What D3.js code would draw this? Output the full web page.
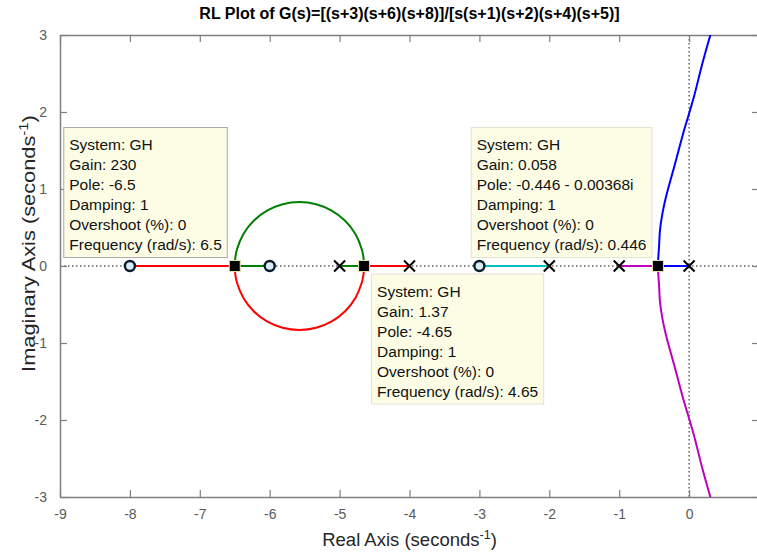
<!DOCTYPE html>
<html>
<head>
<meta charset="utf-8">
<script src="https://cdn.jsdelivr.net/npm/d3@7"></script>
<style>
  body { margin: 0; background: #fff; }
  svg { display: block; font-family: "Liberation Sans", Arial, Helvetica, sans-serif; }
</style>
</head>
<body>
<svg id="chart" width="757" height="553"></svg>
<script>
// open-loop poles and zeros
const poles = [0, -1, -2, -4, -5];
const zerosRL = [-3, -6, -8];

// real-axis pieces of the locus [from, to]
const blueAxis = [[0, 0], [-0.446, 0]];
const magentaAxis = [[-1, 0], [-0.446, 0]];
const cyanAxis = [[-2, 0], [-3, 0]];
const redAxisA = [[-4, 0], [-4.65, 0]];
const redAxisB = [[-6.5, 0], [-8, 0]];
const greenAxisA = [[-5, 0], [-4.65, 0]];
const greenAxisB = [[-6.5, 0], [-6, 0]];

// complex branches
const blueCurve = [[-0.446, 0], [-0.44, 0.12], [-0.43, 0.25], [-0.416, 0.47], [-0.38, 0.69],
  [-0.33, 0.9], [-0.2, 1.33], [-0.07, 1.77], [0.0, 1.98], [0.07, 2.2], [0.19, 2.63], [0.31, 3.02], [0.37, 3.22]];
const magentaCurve = [[-0.446, 0], [-0.44, -0.12], [-0.43, -0.25], [-0.416, -0.47], [-0.38, -0.69],
  [-0.33, -0.9], [-0.2, -1.33], [-0.07, -1.77], [0.0, -1.98], [0.07, -2.2], [0.19, -2.63], [0.31, -3.02], [0.37, -3.22]];
const greenArc = [[-4.65, 0], [-4.658, 0.108], [-4.682, 0.215], [-4.774, 0.415], [-4.921, 0.587], [-5.113, 0.719],
  [-5.335, 0.802], [-5.575, 0.83], [-5.815, 0.802], [-6.038, 0.719], [-6.229, 0.587], [-6.376, 0.415],
  [-6.469, 0.215], [-6.492, 0.108], [-6.5, 0]];
const redArc = [[-4.65, 0], [-4.658, -0.108], [-4.682, -0.215], [-4.774, -0.415], [-4.921, -0.587], [-5.113, -0.719],
  [-5.335, -0.802], [-5.575, -0.83], [-5.815, -0.802], [-6.038, -0.719], [-6.229, -0.587], [-6.376, -0.415],
  [-6.469, -0.215], [-6.492, -0.108], [-6.5, 0]];

// data tips
const tipPoints = [-6.5, -4.65, -0.446];
const tip1 = ["System: GH", "Gain: 230", "Pole: -6.5", "Damping: 1", "Overshoot (%): 0", "Frequency (rad/s): 6.5"];
const tip2 = ["System: GH", "Gain: 1.37", "Pole: -4.65", "Damping: 1", "Overshoot (%): 0", "Frequency (rad/s): 4.65"];
const tip3 = ["System: GH", "Gain: 0.058", "Pole: -0.446 - 0.00368i", "Damping: 1", "Overshoot (%): 0", "Frequency (rad/s): 0.446"];

const xTicks = [-9, -8, -7, -6, -5, -4, -3, -2, -1, 0, 1];
const yTicks = [-3, -2, -1, 0, 1, 2, 3];

const svg = d3.select("#chart");
const mLeft = 60, mRight = 759, mTop = 35, mBottom = 497;

const x = d3.scaleLinear().domain([-9, 1]).range([mLeft, mRight]);
const y = d3.scaleLinear().domain([-3, 3]).range([mBottom, mTop]);

svg.append("defs").append("clipPath").attr("id", "plotclip")
  .append("rect").attr("x", mLeft).attr("y", mTop).attr("width", mRight - mLeft).attr("height", mBottom - mTop);

// dotted zero lines
svg.append("line").attr("x1", mLeft).attr("x2", mRight).attr("y1", y(0)).attr("y2", y(0))
  .attr("stroke", "#666").attr("stroke-width", 1.5).attr("stroke-dasharray", "1.5,2.5");
svg.append("line").attr("x1", x(0)).attr("x2", x(0)).attr("y1", mTop).attr("y2", mBottom)
  .attr("stroke", "#666").attr("stroke-width", 1.5).attr("stroke-dasharray", "1.5,2.5");

// axes
const axisColor = "#7f7f7f";
function styleAxis(g) {
  g.selectAll("path.domain").attr("stroke", axisColor).attr("stroke-width", 1.5);
  g.selectAll(".tick line").attr("stroke", axisColor).attr("stroke-width", 1.2);
  g.selectAll(".tick text").attr("fill", "#5a5a5a").style("font-size", "14px")
    .style("font-family", "'Liberation Sans', Arial, sans-serif");
}
svg.append("g").attr("transform", `translate(0,${mBottom})`)
  .call(d3.axisBottom(x).tickValues(xTicks).tickSizeInner(-7).tickSizeOuter(0).tickPadding(12)
    .tickFormat(d => d === 1 ? "" : String(d)))
  .call(styleAxis);
svg.append("g").attr("transform", `translate(0,${mTop})`)
  .call(d3.axisTop(x).tickValues(xTicks).tickSizeInner(-7).tickSizeOuter(0).tickFormat(""))
  .call(styleAxis);
svg.append("g").attr("transform", `translate(${mLeft},0)`)
  .call(d3.axisLeft(y).tickValues(yTicks).tickSizeInner(-7).tickSizeOuter(0).tickPadding(13)
    .tickFormat(d => String(d)))
  .call(styleAxis);
svg.append("g").attr("transform", `translate(${mRight},0)`)
  .call(d3.axisRight(y).tickValues(yTicks).tickSizeInner(-7).tickSizeOuter(0).tickFormat(""))
  .call(styleAxis);

// locus
const plot = svg.append("g").attr("clip-path", "url(#plotclip)");
const straight = d3.line().x(d => x(d[0])).y(d => y(d[1]));
const smooth = d3.line().x(d => x(d[0])).y(d => y(d[1])).curve(d3.curveCatmullRom);

const pieces = [
  [blueAxis, "#0000ff", straight], [blueCurve, "#0000ff", smooth],
  [magentaAxis, "#bf00bf", straight], [magentaCurve, "#bf00bf", smooth],
  [cyanAxis, "#00bfbf", straight],
  [redAxisA, "#ff0000", straight], [redArc, "#ff0000", smooth], [redAxisB, "#ff0000", straight],
  [greenAxisA, "#008000", straight], [greenArc, "#008000", smooth], [greenAxisB, "#008000", straight]
];
pieces.forEach(([pts, color, gen]) => {
  plot.append("path").attr("d", gen(pts)).attr("fill", "none")
    .attr("stroke", color).attr("stroke-width", 2);
});

// poles (x) and zeros (o)
poles.forEach(p => {
  const cx = x(p), cy = y(0), s = 5.5;
  plot.append("path").attr("d", `M${cx - s},${cy - s}L${cx + s},${cy + s}M${cx - s},${cy + s}L${cx + s},${cy - s}`)
    .attr("stroke", "#000").attr("stroke-width", 2);
});
zerosRL.forEach(z => {
  plot.append("circle").attr("cx", x(z)).attr("cy", y(0)).attr("r", 5)
    .attr("fill", "#d6eefa").attr("stroke", "#0a1c2c").attr("stroke-width", 2.4);
});

// data tip markers
tipPoints.forEach(p => {
  plot.append("rect").attr("x", x(p) - 5.5).attr("y", y(0) - 5.5).attr("width", 11).attr("height", 11)
    .attr("fill", "#000").attr("stroke", "#e6e2b0").attr("stroke-width", 1);
});

// data tip boxes
function drawTip(lines, bx, by, anchorRight, border) {
  const g = svg.append("g");
  const rect = g.append("rect").attr("fill", "#fdfde6").attr("stroke", border).attr("stroke-width", 1);
  const texts = g.selectAll("text").data(lines).enter().append("text")
    .attr("y", (d, i) => by + 22.5 + i * 20)
    .attr("fill", "#111").style("font-size", "15.5px")
    .text(d => d);
  let w = 0;
  texts.each(function () { w = Math.max(w, this.getComputedTextLength()); });
  const bw = w + 11, bh = 130;
  const x0 = anchorRight ? bx - bw : bx;
  rect.attr("x", x0).attr("y", by).attr("width", bw).attr("height", bh);
  texts.attr("x", x0 + 5.5);
}
drawTip(tip1, x(-6.5) - 7.5, 127.5, true, "#a8a8a8");
drawTip(tip2, x(-4.65) + 7.5, 274, false, "#e2e2d2");
drawTip(tip3, x(-0.446) - 6, 127.5, true, "#e2e2d2");

// title and labels
svg.append("text").attr("x", (mLeft + mRight) / 2).attr("y", 19).attr("text-anchor", "middle")
  .style("font-size", "16px").style("font-weight", "bold").attr("fill", "#000")
  .text("RL Plot of G(s)=[(s+3)(s+6)(s+8)]/[s(s+1)(s+2)(s+4)(s+5)]");

const xl = svg.append("text").attr("x", (mLeft + mRight) / 2).attr("y", 546).attr("text-anchor", "middle")
  .style("font-size", "18.5px").attr("fill", "#262626");
xl.append("tspan").text("Real Axis (seconds");
xl.append("tspan").attr("dy", -7).style("font-size", "12.5px").text("-1");
xl.append("tspan").attr("dy", 7).text(")");

const yl = svg.append("text").attr("text-anchor", "middle")
  .style("font-size", "19px").attr("fill", "#262626");
yl.append("tspan").text("Imaginary Axis (seconds");
yl.append("tspan").attr("dy", -7).style("font-size", "13px").text("-1");
yl.append("tspan").attr("dy", 7).text(")");
// stretch to the label length seen in the reference
const ylw = yl.node().getBBox().width;
yl.attr("transform", `translate(35,243.5) rotate(-90) scale(${257 / ylw},1)`);
</script>
</body>
</html>
